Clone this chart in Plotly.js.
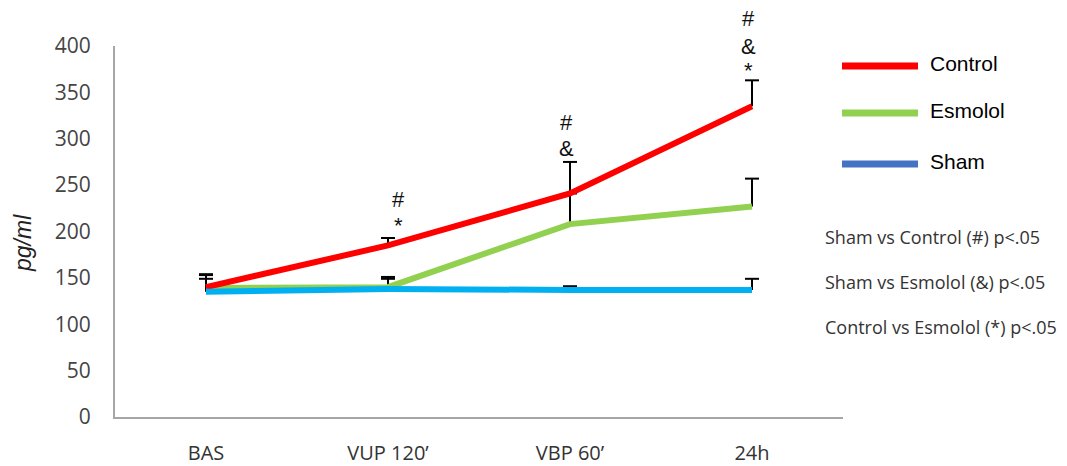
<!DOCTYPE html>
<html>
<head>
<meta charset="utf-8">
<script src="https://cdn.plot.ly/plotly-3.0.1.min.js"></script>
<style>html,body{margin:0;padding:0;background:#fff;}#chart{width:1067px;height:466px;}</style>
</head>
<body>
<div id="chart"></div>
<script>
// ---- data ----
const categories = ["BAS", "VUP 120\u2019", "VBP 60\u2019", "24h"];
const controlValues = [140, 185, 241, 335];
const controlErr = [14, 8, 34, 28];
const esmololValues = [139, 140, 208, 227];
const esmololErr = [14, 11, 33, 30];
const shamValues = [135, 138, 137, 137];
const shamErr = [14, 11, 4, 12];
const seriesNames = ["Control", "Esmolol", "Sham"];
const legendColors = ["#FF0000", "#92D050", "#4472C4"];
const notes = ["Sham vs Control (#) p<.05", "Sham vs Esmolol (&) p<.05", "Control vs Esmolol (*) p<.05"];
// significance marks: [category index, symbol, y value]
const sigCats = [1, 1, 2, 2, 3, 3, 3];
const sigSymbols = ["#", "*", "#", "&", "#", "&", "*"];
const sigY = [234, 207, 317, 290, 430, 399, 374];

const FONT = "Open Sans, Liberation Sans, Arial, sans-serif";

// upper-only error bars: stem from the value up, cap drawn as a horizontal marker at the top
function errTrace(vals, errs) {
  return {
    x: categories, y: vals.map((v, i) => v + errs[i]), type: "scatter", mode: "markers",
    marker: {symbol: "line-ew-open", size: 10, color: "#000", line: {color: "#000", width: 2}},
    showlegend: false, hoverinfo: "skip",
    error_y: {type: "data", symmetric: false, array: errs.map(() => 0), arrayminus: errs,
              color: "#000000", thickness: 2, width: 0}
  };
}
function lineTrace(vals, color) {
  return {x: categories, y: vals, type: "scatter", mode: "lines",
          line: {color: color, width: 6}, showlegend: false, hoverinfo: "skip"};
}
const traces = [
  errTrace(esmololValues, esmololErr),
  errTrace(controlValues, controlErr),
  errTrace(shamValues, shamErr),
  lineTrace(esmololValues, "#92D050"),
  lineTrace(controlValues, "#FF0000"),
  lineTrace(shamValues, "#00B0F0")
];

const L = 115, R = 843, T = 46, B = 417;
const W = R - L, H = B - T;
const px = v => (v - L) / W;
const py = v => (B - v) / H;

const shapes = [];
const annotations = [];
const legendY = [66, 113, 164];
seriesNames.forEach((n, i) => {
  shapes.push({type: "line", xref: "paper", yref: "paper", x0: px(842), x1: px(918),
               y0: py(legendY[i]), y1: py(legendY[i]), line: {color: legendColors[i], width: 7}});
  annotations.push({xref: "paper", yref: "paper", x: px(928), y: py(legendY[i] - 3), text: n,
                    showarrow: false, xanchor: "left", yanchor: "middle",
                    font: {family: "Liberation Sans, Arial, sans-serif", size: 21, color: "#000"}});
});
const noteY = [237, 282, 327];
notes.forEach((t, i) => {
  annotations.push({xref: "paper", yref: "paper", x: px(823), y: py(noteY[i]), text: t,
                    showarrow: false, xanchor: "left", yanchor: "middle",
                    font: {family: FONT, size: 18, color: "#333"}});
});
sigSymbols.forEach((s, i) => {
  annotations.push({x: sigCats[i], y: sigY[i] / 400, xref: "x", yref: "paper", text: s, showarrow: false,
                    xshift: sigCats[i] === 1 ? 10 : -4, xanchor: "center", yanchor: "middle",
                    font: {family: "Liberation Sans, Arial, sans-serif", size: 22, color: "#111"}});
});
annotations.push({xref: "paper", yref: "paper", x: px(23), y: py(243), text: "<i>pg/ml</i>",
                  textangle: -90, showarrow: false, xanchor: "center", yanchor: "middle",
                  font: {family: "Liberation Sans, Arial, sans-serif", size: 23, color: "#222"}});

const layout = {
  width: 1067, height: 466,
  margin: {l: L, r: 1067 - R, t: T, b: 466 - B},
  paper_bgcolor: "#fff", plot_bgcolor: "#fff",
  showlegend: false,
  xaxis: {type: "category", range: [-0.5, 3.5], showgrid: false, zeroline: false,
          showline: true, linecolor: "#A6A6A6", linewidth: 2, ticks: "",
          ticklabelstandoff: 17,
          tickfont: {family: FONT, size: 20, color: "#333"}},
  yaxis: {range: [0, 400], dtick: 50, showgrid: false, zeroline: false,
          showline: true, linecolor: "#A6A6A6", linewidth: 2, ticks: "",
          ticklabelstandoff: 18,
          tickfont: {family: FONT, size: 21, color: "#444"}},
  shapes: shapes,
  annotations: annotations
};
Plotly.newPlot("chart", traces, layout, {staticPlot: true});
</script>
</body>
</html>
